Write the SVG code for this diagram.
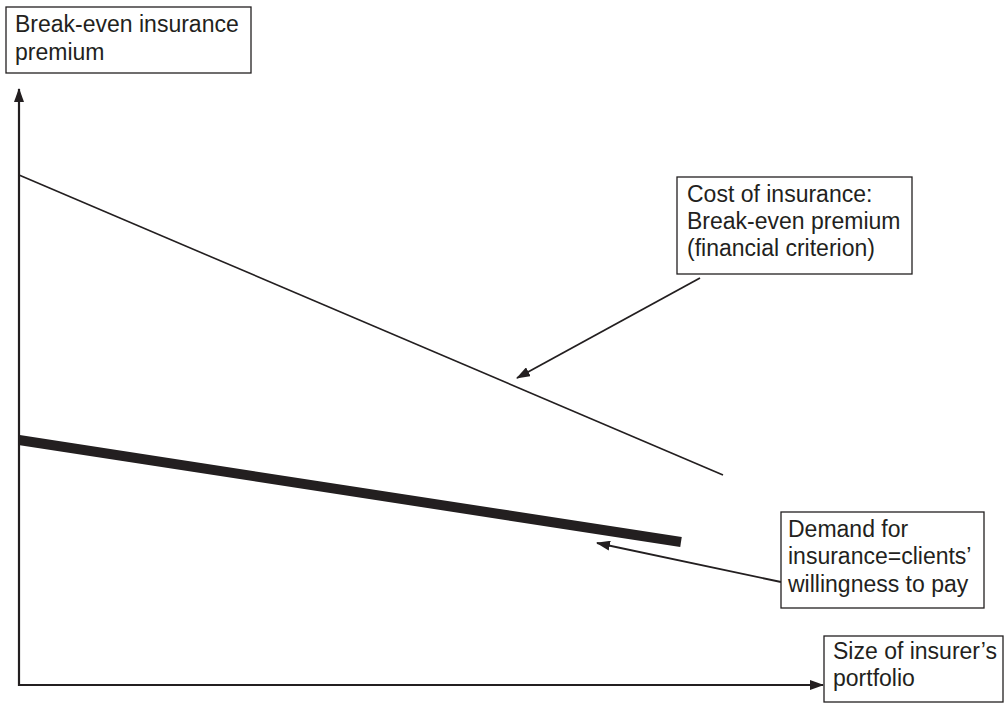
<svg xmlns="http://www.w3.org/2000/svg" width="1005" height="704" viewBox="0 0 1005 704">
<style>
.box{fill:#fff;stroke:#231f20;stroke-width:1.3}
.t{font-family:"Liberation Sans",Arial,sans-serif;font-size:23px;fill:#231f20}
.ln{stroke:#231f20;fill:none}
</style>
<defs>
<marker id="ah" markerWidth="14" markerHeight="10" refX="13" refY="5" orient="auto" markerUnits="userSpaceOnUse">
<path d="M0,0 L14,5 L0,10 z" fill="#231f20"/>
</marker>
</defs>
<rect width="1005" height="704" fill="#fff"/>
<g id="connectors">
<line class="ln" x1="19" y1="686" x2="19" y2="89" stroke-width="2.2" marker-end="url(#ah)"/>
<line class="ln" x1="18" y1="685" x2="823" y2="685" stroke-width="2.2" marker-end="url(#ah)"/>
<line class="ln" x1="19" y1="175" x2="723" y2="475" stroke-width="1.6"/>
<line class="ln" x1="19" y1="440" x2="681" y2="542" stroke-width="10"/>
<line class="ln" x1="700" y1="278" x2="517" y2="378" stroke-width="1.8" marker-end="url(#ah)"/>
<line class="ln" x1="781" y1="582" x2="597" y2="543" stroke-width="1.8" marker-end="url(#ah)"/>
</g>
<g id="ylabel">
<rect class="box" x="6" y="7" width="245" height="66"/>
<text class="t" x="15" y="32">Break-even insurance</text>
<text class="t" x="15" y="60">premium</text>
</g>
<g id="cost">
<rect class="box" x="677" y="177" width="235" height="97"/>
<text class="t" x="687" y="202">Cost of insurance:</text>
<text class="t" x="687" y="229">Break-even premium</text>
<text class="t" x="687" y="256">(financial criterion)</text>
</g>
<g id="demand">
<rect class="box" x="781" y="512" width="203" height="96"/>
<text class="t" x="788" y="537">Demand for</text>
<text class="t" x="788" y="564">insurance=clients’</text>
<text class="t" x="788" y="592">willingness to pay</text>
</g>
<g id="xlabel">
<rect class="box" x="824" y="636" width="179" height="66"/>
<text class="t" x="833" y="659">Size of insurer’s</text>
<text class="t" x="833" y="686">portfolio</text>
</g>
</svg>
